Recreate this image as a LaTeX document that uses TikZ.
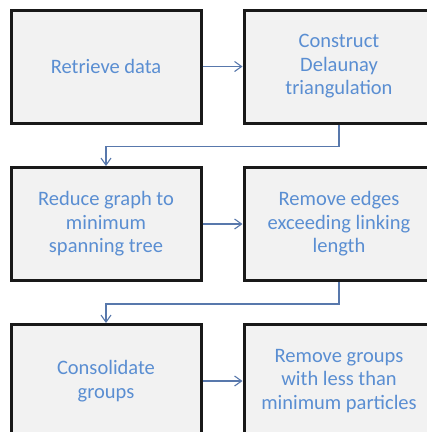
\documentclass[tikz,border=0pt]{standalone}
\usepackage{fontspec}
\setmainfont{Carlito}
\usetikzlibrary{arrows.meta}
\definecolor{boxfill}{HTML}{F2F2F2}
\definecolor{txtblue}{HTML}{5A8ED2}
\definecolor{linkblue}{HTML}{5878AC}
\tikzset{
  stepbox/.style={draw=black!90, line width=3pt, fill=boxfill,
    minimum width=190pt, minimum height=113pt, inner sep=0pt,
    align=center, text=txtblue, font=\fontsize{20.5pt}{23.5pt}\selectfont},
  link/.style={draw=linkblue, line width=1.1pt,
    -{Straight Barb[length=7pt,width=10pt,line width=1.1pt]}}
}
\begin{document}
\begin{tikzpicture}[x=1pt,y=-1pt]
  \useasboundingbox (0,0) rectangle (427,432);
  \clip (0,0) rectangle (427,432);
  \fill[white] (0,0) rectangle (427,432);
  % row 1
  \node[stepbox] (retrieve) at (106,66.5) {Retrieve data};
  \node[stepbox] (delaunay) at (339,66.5) {Construct\\Delaunay\\triangulation};
  % row 2
  \node[stepbox] (mst) at (106,224) {Reduce graph to\\minimum\\spanning tree};
  \node[stepbox] (cut) at (339,224) {Remove edges\\exceeding linking\\length};
  % row 3
  \node[stepbox] (consol) at (106,381) {Consolidate\\groups};
  \node[stepbox] (prune) at (339,381) {Remove groups\\with less than\\minimum particles};
  % connectors
  \draw[link] (retrieve) -- (delaunay);
  \draw[link] (mst) -- (cut);
  \draw[link] (consol) -- (prune);
  \draw[link] (delaunay.south) -- ++(0,22) -| (mst.north);
  \draw[link] (cut.south) -- ++(0,22) -| (consol.north);
\end{tikzpicture}
\end{document}
